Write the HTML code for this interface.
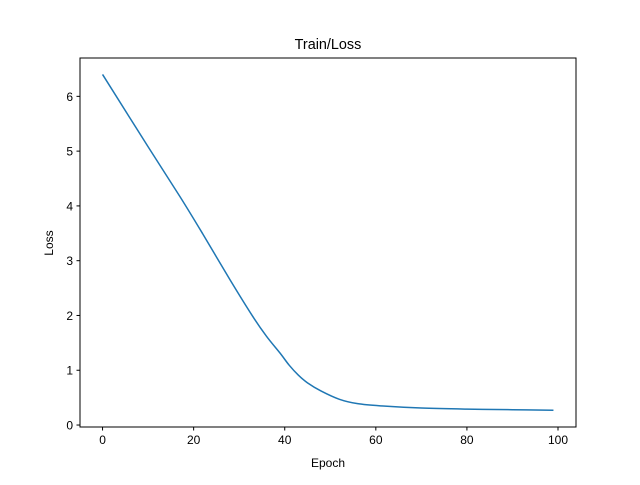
<!DOCTYPE html>
<html><head><meta charset="utf-8"><style>
body{margin:0;background:#fff;}
svg text{font-family:"Liberation Sans","DejaVu Sans",sans-serif;}
</style></head><body>
<svg id="chart" width="640" height="480">
<rect width="640" height="480" fill="#fff"/>
<text x="328" y="49" text-anchor="middle" font-size="14.4">Train/Loss</text>
<text x="328" y="467" text-anchor="middle" font-size="12">Epoch</text>
<text x="53" y="243" text-anchor="middle" font-size="12" transform="rotate(-90 53 243)">Loss</text>
<g id="plot"></g>
<rect x="80" y="58" width="496" height="369" fill="none" stroke="#000" stroke-width="1"/>
</svg>
<script>
const epochs=[0,10,17,22,28,33,36,39,41,43,45,48,52,56,61,70,80,90,99];
const losses=[6.4,5.08,4.17,3.49,2.65,1.98,1.62,1.31,1.09,0.91,0.77,0.62,0.47,0.39,0.35,0.31,0.29,0.28,0.27];
const xTicks=[0,20,40,60,80,100];
const yTicks=[0,1,2,3,4,5,6];
const X0=80,X1=576,Y0=427,Y1=58;
const xMin=-4.95,xMax=103.95,yMin=-0.036,yMax=6.70;
const sx=v=>X0+(v-xMin)/(xMax-xMin)*(X1-X0);
const sy=v=>Y0-(v-yMin)/(yMax-yMin)*(Y0-Y1);
const g=document.getElementById('plot');
const NS='http://www.w3.org/2000/svg';
function mk(t,a){const e=document.createElementNS(NS,t);for(const k in a)e.setAttribute(k,a[k]);g.appendChild(e);return e;}
xTicks.forEach(t=>{
 const l=mk('line',{x1:sx(t),x2:sx(t),y1:Y0,y2:Y0+3.5,stroke:'#000'});
 
 
 const tx=mk('text',{x:sx(t),y:Y0+17,'text-anchor':'middle','font-size':'12'});
 tx.textContent=t;
 
 
});
yTicks.forEach(t=>{
 const l=mk('line',{x1:X0-3.5,x2:X0,y1:sy(t),y2:sy(t),stroke:'#000'});
 
 
 const tx=mk('text',{x:X0-7,y:sy(t)+4.5,'text-anchor':'end','font-size':'12'});
 tx.textContent=t;
 
 
});
// smooth path via Catmull-Rom through data points
const pts=epochs.map((e,i)=>[sx(e),sy(losses[i])]);
let d='M'+pts[0][0]+','+pts[0][1];
for(let i=0;i<pts.length-1;i++){
 const p0=pts[Math.max(i-1,0)],p1=pts[i],p2=pts[i+1],p3=pts[Math.min(i+2,pts.length-1)];
 const c1=[p1[0]+(p2[0]-p0[0])/6,p1[1]+(p2[1]-p0[1])/6];
 const c2=[p2[0]-(p3[0]-p1[0])/6,p2[1]-(p3[1]-p1[1])/6];
 d+=' C'+c1+' '+c2+' '+p2;
}
const p=mk('path',{d:d,fill:'none',stroke:'#1f77b4','stroke-width':'1.5','stroke-linejoin':'round'});


</script>
</body></html>
